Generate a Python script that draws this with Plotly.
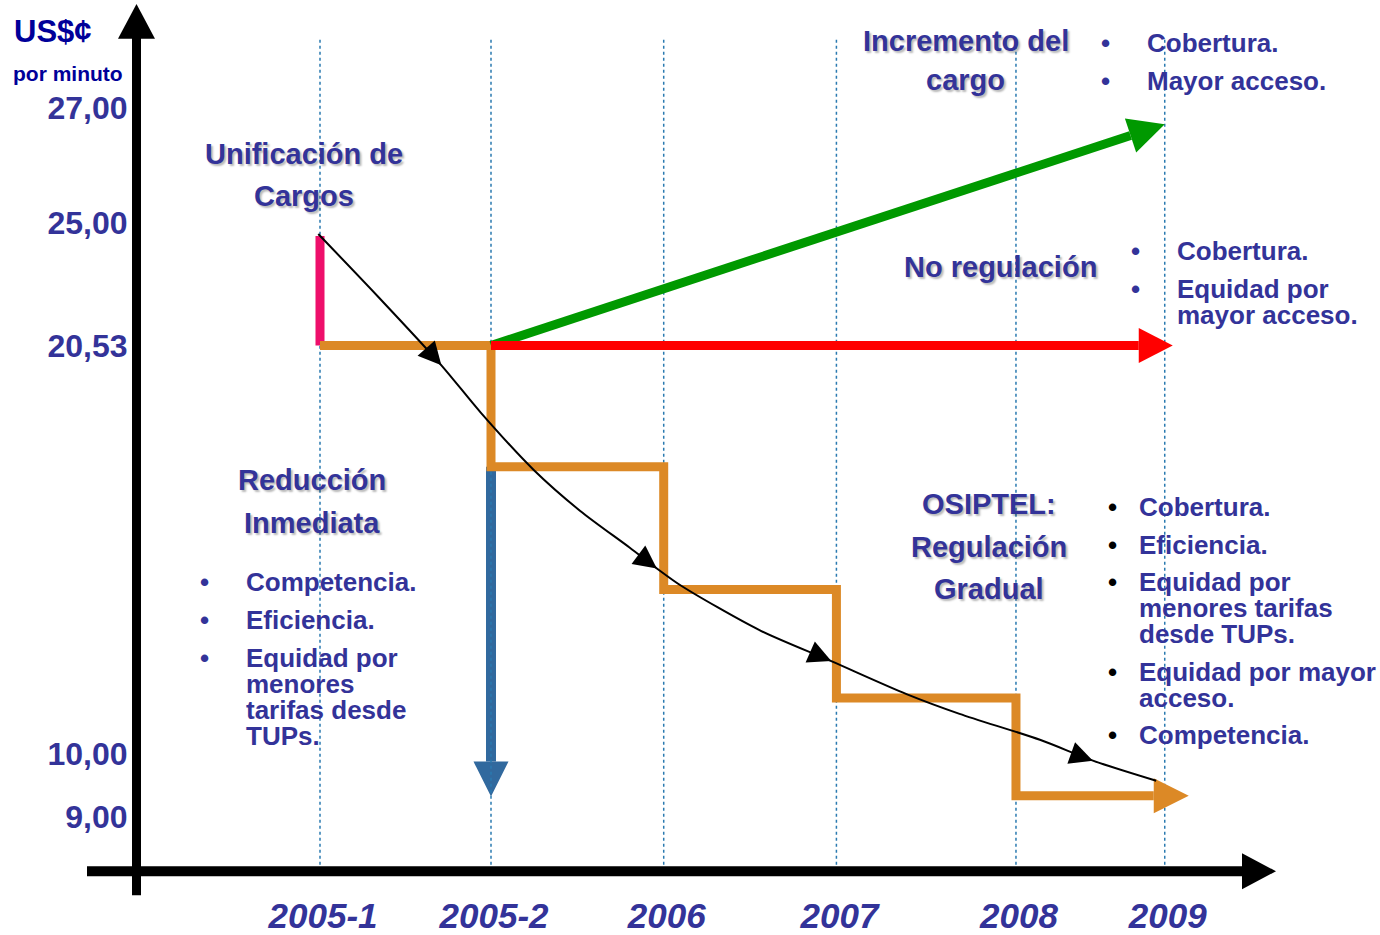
"""Cargo de interconexión: escenarios de regulación (US$¢ por minuto).

Diagrama esquemático: el eje vertical no es proporcional, por eso los
valores se llevan a la altura del dibujo interpolando entre las marcas.
"""

import numpy as np
import plotly.graph_objects as go

W, H = 1380, 935
FUENTE = "Arial, Liberation Sans, sans-serif"
AZUL_TXT = "#333399"
NARANJA = "#DC8926"
ROJO = "#FF0000"
VERDE = "#009900"
AZUL = "#31699E"
ROSA = "#EE0F6B"
PUNTEADO = "#2A7AB0"

# ---------------------------------------------------------------------------
# Datos
# ---------------------------------------------------------------------------
PERIODOS = ["2005-1", "2005-2", "2006", "2007", "2008", "2009"]

TICK_VALORES = [27.00, 25.00, 20.53, 10.00, 9.00]
TICK_TEXTO = ["27,00", "25,00", "20,53", "10,00", "9,00"]

# senda de regulación gradual (un escalón por periodo, 2005-1 .. 2008)
ESCALON = [20.53, 17.40, 14.24, 11.44, 9.33]
CARGO_PREVIO = 24.53        # antes de la unificación de cargos (2005-1)
INCREMENTO_2009 = 26.71     # escenario "incremento del cargo"
REDUCCION_FIN = 9.32        # escenario "reducción inmediata"

# tendencia (curva negra), x en periodos
CURVA_X = [-0.01, 0.34, 0.71, 0.94, 1.25, 1.52, 1.81, 1.97, 2.11, 2.57,
           2.99, 3.43, 3.74, 4.21, 4.52, 4.89]
CURVA_Y = [24.60, 22.31, 20.02, 18.80, 17.32, 16.27, 15.32, 14.78, 14.34,
           13.19, 12.39, 11.54, 11.03, 10.36, 9.89, 9.57]
CURVA_FLECHAS = [2, 7, 10, 14]

# ---------------------------------------------------------------------------
# Escalas del esquema (posiciones, no datos)
# ---------------------------------------------------------------------------
PERIODO_POS = [0, 1, 2.01, 3.02, 4.07, 4.94]   # separación dibujada a mano
TICK_ALTURA = [108, 224, 347, 757, 820]        # altura de cada marca (px desde arriba)
X_PX0, PXP = 320, 171                          # px de 2005-1 y px por periodo
X_EJE, Y_EJE = 136.5, 875                      # posición de los ejes en px


def nivel(v):
    """Valor en US$¢ -> altura en el esquema (eje no proporcional)."""
    return np.interp(v, TICK_VALORES[::-1], TICK_ALTURA[::-1])


def punta(x, y, ux, uy, largo, ancho):
    """Triángulo de flecha con la punta en (x, y) apuntando en (ux, uy) px."""
    n = np.hypot(ux, uy)
    ux, uy = ux / n, uy / n
    tx, ty = x * PXP, y
    bx, by = tx - ux * largo, ty - uy * largo
    nx, ny = -uy * ancho / 2, ux * ancho / 2
    xs = [tx, bx + nx, bx - nx, tx]
    ys = [ty, by + ny, by - ny, ty]
    return [v / PXP for v in xs], ys, (bx / PXP, by)


fig = go.Figure()


def linea(x, y, color, ancho, **kw):
    fig.add_trace(go.Scatter(x=x, y=y, mode="lines", hoverinfo="skip",
                             line=dict(color=color, width=ancho, **kw)))


def triangulo(xs, ys, color):
    fig.add_trace(go.Scatter(x=xs, y=ys, mode="lines", fill="toself",
                             fillcolor=color, line=dict(color=color, width=0),
                             hoverinfo="skip"))


p = PERIODO_POS

# reducción inmediata (flecha azul)
y0, y1 = nivel(ESCALON[1]), nivel(REDUCCION_FIN)
tx, ty, base = punta(p[1], y1, 0, 1, 35, 35)
linea([p[1], p[1]], [y0, base[1]], AZUL, 10)
triangulo(tx, ty, AZUL)

# líneas punteadas por periodo
for pos in PERIODO_POS:
    linea([pos, pos], [40, Y_EJE], PUNTEADO, 1.5, dash="dot")

# unificación de cargos
linea([p[0], p[0]], [nivel(ESCALON[0]), nivel(CARGO_PREVIO)], ROSA, 9)

# regulación gradual (escalones)
esc_y = [nivel(v) for v in ESCALON]
fin_x = p[5] + 24 / PXP
tx, ty, base = punta(fin_x, esc_y[-1], 1, 0, 35, 35)
fig.add_trace(go.Scatter(x=p[:5] + [base[0]], y=esc_y + [esc_y[-1]], mode="lines",
                         line=dict(color=NARANJA, width=9, shape="hv"),
                         hoverinfo="skip"))
triangulo(tx, ty, NARANJA)

# incremento del cargo (verde)
ya, yb = nivel(ESCALON[0]), nivel(INCREMENTO_2009)
tx, ty, base = punta(p[5], yb, (p[5] - p[1]) * PXP, yb - ya, 36, 36)
linea([p[1], base[0]], [ya, base[1]], VERDE, 9)
triangulo(tx, ty, VERDE)

# no regulación (rojo)
tx, ty, base = punta(p[5] + 8 / PXP, ya, 1, 0, 34, 35)
linea([p[1], base[0]], [ya, ya], ROJO, 9)
triangulo(tx, ty, ROJO)

# tendencia
cy = [nivel(v) for v in CURVA_Y]
linea(CURVA_X, cy, "black", 2, shape="spline", smoothing=0.8)
for i in CURVA_FLECHAS:
    dx = (CURVA_X[i + 1] - CURVA_X[i - 1]) * PXP
    dy = cy[i + 1] - cy[i - 1]
    tx, ty, _ = punta(CURVA_X[i], cy[i], dx, dy, 23, 23)
    triangulo(tx, ty, "black")


# ---------------------------------------------------------------------------
# Ejes con flecha (en px del lienzo)
# ---------------------------------------------------------------------------
def pp(px, py):
    return px / W, 1 - py / H


def trayecto(puntos):
    return "M" + " L".join(f"{pp(a, b)[0]:.5f},{pp(a, b)[1]:.5f}" for a, b in puntos) + " Z"


formas = [
    dict(type="line", xref="paper", yref="paper", x0=pp(X_EJE, 0)[0], x1=pp(X_EJE, 0)[0],
         y0=pp(0, 899)[1], y1=pp(0, 38)[1], line=dict(color="black", width=9)),
    dict(type="path", xref="paper", yref="paper",
         path=trayecto([(118, 39), (155, 39), (136.5, 4)]),
         fillcolor="black", line=dict(width=0)),
    dict(type="line", xref="paper", yref="paper", x0=pp(87, 0)[0], x1=pp(1243, 0)[0],
         y0=pp(0, Y_EJE)[1], y1=pp(0, Y_EJE)[1], line=dict(color="black", width=10)),
    dict(type="path", xref="paper", yref="paper",
         path=trayecto([(1242, 857), (1242, 893), (1276, 875)]),
         fillcolor="black", line=dict(width=0)),
]

# ---------------------------------------------------------------------------
# Textos
# ---------------------------------------------------------------------------
notas = []


def texto(s, px, py, size=26, anchor="left", color=AZUL_TXT, sombra=False):
    x, y = pp(px, py)
    f = dict(family=FUENTE, size=size, color=color, weight="bold")
    if sombra:
        f["shadow"] = "2px 2px 2px rgba(0,0,0,0.28)"
    notas.append(dict(text=s, x=x, y=y, xref="paper", yref="paper", xanchor=anchor,
                      yanchor="middle", showarrow=False, font=f, borderpad=0))


def titulo(lineas, cx, ys):
    for s, y in zip(lineas, ys):
        texto(s, cx, y, size=29, anchor="center", sombra=True)


def vinetas(items, bx, tx, color_bala=AZUL_TXT):
    for lineas, y0 in items:
        texto("•", bx, y0, size=26, anchor="center", color=color_bala)
        for k, s in enumerate(lineas):
            texto(s, tx, y0 + 26 * k)


texto("US$¢", 13, 32, size=31, color="#000099")
texto("por minuto", 12, 74, size=21, color="#000099")

titulo(["Unificación de", "Cargos"], 304, [155, 197])
titulo(["Reducción", "Inmediata"], 312, [482, 525])
titulo(["Incremento del", "cargo"], 966, [41, 80])
titulo(["No regulación"], 1000, [268])
titulo(["OSIPTEL:", "Regulación", "Gradual"], 989, [506, 549, 592])

vinetas([(["Competencia."], 585), (["Eficiencia."], 623),
         (["Equidad por", "menores", "tarifas desde", "TUPs."], 661)], 204, 245)
vinetas([(["Cobertura."], 43), (["Mayor acceso."], 81)], 1105, 1146)
vinetas([(["Cobertura."], 252), (["Equidad por", "mayor acceso."], 290)], 1135, 1176)
vinetas([(["Cobertura."], 509), (["Eficiencia."], 547),
         (["Equidad por", "menores tarifas", "desde TUPs."], 585),
         (["Equidad por mayor", "acceso."], 675), (["Competencia."], 738)],
        1112, 1138, color_bala="black")

fig.update_layout(
    width=W, height=H, margin=dict(l=0, r=0, t=0, b=0), autosize=False,
    paper_bgcolor="white", plot_bgcolor="white", showlegend=False,
    xaxis=dict(domain=[X_EJE / W, 1], range=[(X_EJE - X_PX0) / PXP, (W - X_PX0) / PXP],
               tickvals=PERIODO_POS, ticktext=PERIODOS, ticks="", showgrid=False,
               zeroline=False, showline=False, ticklabelstandoff=21, ticklabelshift=3,
               tickfont=dict(family=FUENTE, size=35, color=AZUL_TXT, weight="bold",
                             style="italic")),
    yaxis=dict(domain=[1 - Y_EJE / H, 1], range=[Y_EJE, 0],
               tickvals=[float(nivel(v)) for v in TICK_VALORES], ticktext=TICK_TEXTO,
               ticks="", showgrid=False, zeroline=False, showline=False,
               ticklabelstandoff=8,
               tickfont=dict(family=FUENTE, size=32, color=AZUL_TXT, weight="bold")),
    shapes=formas,
    annotations=notas,
)

# la página trae margen por defecto en <body>; se quita para que el lienzo
# empiece en la esquina de la ventana
fig.write_html("out.html", config={"displayModeBar": False},
               post_script="document.body.style.margin = '0';")
